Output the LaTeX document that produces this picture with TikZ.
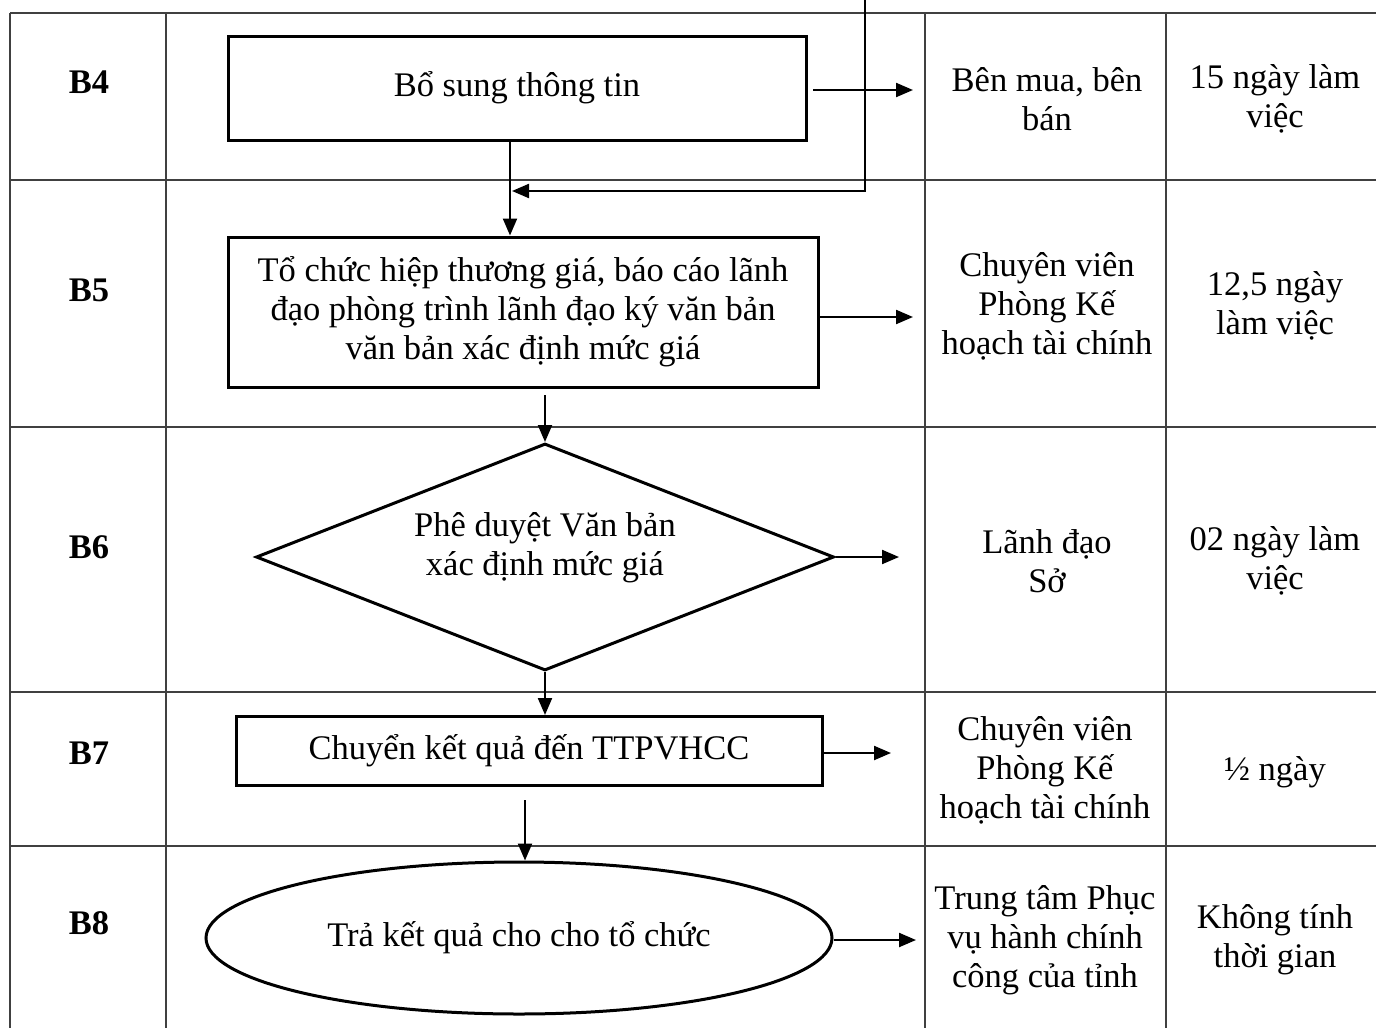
\documentclass[tikz,border=0pt]{standalone}
\usepackage{fontspec}
\setmainfont{Liberation Serif}
\usetikzlibrary{arrows.meta,shapes.geometric}
\begin{document}
\begin{tikzpicture}[x=1pt,y=-1pt,
  grid/.style={draw=black!75,line width=1.4pt},
  box/.style={draw,line width=3pt,inner sep=0pt,align=center,font=\fontsize{34.5}{39}\selectfont},
  txt/.style={align=center,inner sep=0pt,font=\fontsize{34.5}{39}\selectfont},
  lbl/.style={inner sep=0pt,font=\fontsize{34.5}{39}\selectfont\bfseries},
  arr/.style={line width=2.2pt,-{Triangle[length=17pt,width=14pt]}}]
\useasboundingbox (0,0) rectangle (1376,1028);
\fill[white] (0,0) rectangle (1376,1028);
% table
\draw[grid] (10,13) -- (1376,13);
\foreach \y in {180,427,692,846} \draw[grid] (10,\y) -- (1376,\y);
\foreach \x in {10,166,925,1166} \draw[grid] (\x,13) -- (\x,1028);
% step labels
\node[lbl] (l4) at (89,82) {B4};
\node[lbl] (l5) at (89,290) {B5};
\node[lbl] (l6) at (89,547) {B6};
\node[lbl] (l7) at (89,753) {B7};
\node[lbl] (l8) at (89,923) {B8};
% flow shapes
\node[box,minimum width=578pt,minimum height=104pt] (b4) at (517,88) {Bổ sung thông tin};
\node[box,minimum width=590pt,minimum height=150pt] (b5) at (523,312) {Tổ chức hiệp thương giá, báo cáo lãnh\\đạo phòng trình lãnh đạo ký văn bản\\văn bản xác định mức giá};
\node[draw,diamond,line width=3pt,inner sep=0pt,aspect=2.55,minimum width=578pt,minimum height=227pt] (b6) at (545,557) {};
\node[txt] (t6) at (545,548) {Phê duyệt Văn bản\\xác định mức giá};
\node[box,minimum width=586pt,minimum height=69pt] (b7) at (529,751) {Chuyển kết quả đến TTPVHCC};
\node[draw,ellipse,line width=3pt,inner sep=0pt,minimum width=626pt,minimum height=152pt,font=\fontsize{34.5}{39}\selectfont] (b8) at (519,938) {Trả kết quả cho cho tổ chức};
% right columns
\node[txt] (w4) at (1047,99) {Bên mua, bên\\bán};
\node[txt] (d4) at (1275,99) {15 ngày làm\\việc};
\node[txt] (w5) at (1047,306) {Chuyên viên\\Phòng Kế\\hoạch tài chính};
\node[txt] (d5) at (1275,306) {12,5 ngày\\làm việc};
\node[txt] (w6) at (1047,561) {Lãnh đạo\\Sở};
\node[txt] (d6) at (1275,561) {02 ngày làm\\việc};
\node[txt] (w7) at (1045,770) {Chuyên viên\\Phòng Kế\\hoạch tài chính};
\node[txt] (d7) at (1275,772) {½ ngày};
\node[txt] (w8) at (1045,940) {Trung tâm Phục\\vụ hành chính\\công của tỉnh};
\node[txt] (d8) at (1275,940) {Không tính\\thời gian};
% connectors
\coordinate (a4s) at (813,90); \coordinate (a4e) at (913,90);
\draw[arr] (a4s) -- (a4e);
\coordinate (fbtop) at (865,0); \coordinate (fbend) at (512,191);
\draw[arr] (fbtop) |- (fbend);
\draw[arr] (b4.south -| 510,0) -- (b5.north -| 510,0);
\coordinate (a5s) at (820,317); \coordinate (a5e) at (913,317);
\draw[arr] (a5s) -- (a5e);
\coordinate (a56) at (545,395);
\draw[arr] (a56) -- (b6.north);
\coordinate (a6e) at (899,557);
\draw[arr] (b6.east) -- (a6e);
\draw[arr] (b6.south) -- (b7.north -| b6.south);
\coordinate (a7s) at (823,753); \coordinate (a7e) at (891,753);
\draw[arr] (a7s) -- (a7e);
\coordinate (a78) at (525,800);
\draw[arr] (a78) -- (b8.north -| a78);
\coordinate (a8e) at (916,940);
\draw[arr] (b8.east |- a8e) -- (a8e);
\end{tikzpicture}
\end{document}
